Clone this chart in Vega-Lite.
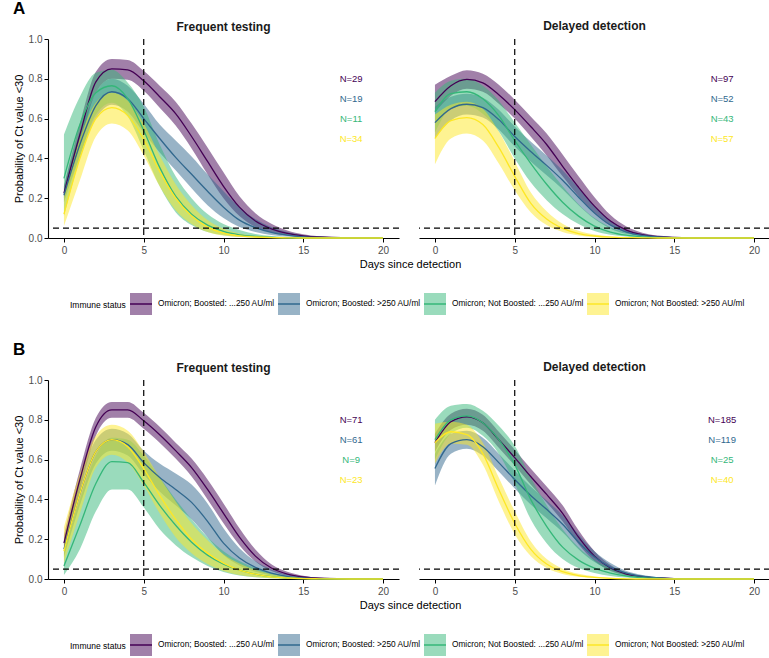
{
"$schema":"https://vega.github.io/schema/vega-lite/v6.json",
"padding":{"left":13,"top":0,"right":0,"bottom":0},
"config":{"font":"Liberation Sans","view":{"stroke":null},
"axis":{"domainColor":"#000","domainWidth":1.1,"tickColor":"#000","tickWidth":1,"tickSize":4,"labelColor":"#4d4d4d","labelFontSize":10,"labelPadding":2,"titleFontSize":11,"titleFontWeight":"normal","titleColor":"#000","grid":false},
"axisX":{"labelPadding":3,"titlePadding":3},
"axisY":{"titlePadding":4},
"title":{"fontSize":12,"fontWeight":"bold","color":"#1a1a1a","offset":5},
"legend":{"labelFontSize":8.3,"titleFontSize":8.5,"titleFontWeight":"normal","labelColor":"#000","titleColor":"#000"}},
"datasets":{
"vline":[{"day":5}],
"hline":[{"p":0.05}],
"labels":[
{"row":"A","test":"F","group":"Omicron; Boosted: ...250 AU/ml","label":"N=29"},
{"row":"A","test":"F","group":"Omicron; Boosted: >250 AU/ml","label":"N=19"},
{"row":"A","test":"F","group":"Omicron; Not Boosted: ...250 AU/ml","label":"N=11"},
{"row":"A","test":"F","group":"Omicron; Not Boosted: >250 AU/ml","label":"N=34"},
{"row":"A","test":"D","group":"Omicron; Boosted: ...250 AU/ml","label":"N=97"},
{"row":"A","test":"D","group":"Omicron; Boosted: >250 AU/ml","label":"N=52"},
{"row":"A","test":"D","group":"Omicron; Not Boosted: ...250 AU/ml","label":"N=43"},
{"row":"A","test":"D","group":"Omicron; Not Boosted: >250 AU/ml","label":"N=57"},
{"row":"B","test":"F","group":"Omicron; Boosted: ...250 AU/ml","label":"N=71"},
{"row":"B","test":"F","group":"Omicron; Boosted: >250 AU/ml","label":"N=61"},
{"row":"B","test":"F","group":"Omicron; Not Boosted: ...250 AU/ml","label":"N=9"},
{"row":"B","test":"F","group":"Omicron; Not Boosted: >250 AU/ml","label":"N=23"},
{"row":"B","test":"D","group":"Omicron; Boosted: ...250 AU/ml","label":"N=185"},
{"row":"B","test":"D","group":"Omicron; Boosted: >250 AU/ml","label":"N=119"},
{"row":"B","test":"D","group":"Omicron; Not Boosted: ...250 AU/ml","label":"N=25"},
{"row":"B","test":"D","group":"Omicron; Not Boosted: >250 AU/ml","label":"N=40"}
],
"curves":[
{"row":"A","test":"F","group":"Omicron; Boosted: ...250 AU/ml","day":0,"p":0.225,"lo":0.2,"hi":0.26},
{"row":"A","test":"F","group":"Omicron; Boosted: ...250 AU/ml","day":1,"p":0.52,"lo":0.47,"hi":0.575},
{"row":"A","test":"F","group":"Omicron; Boosted: ...250 AU/ml","day":2,"p":0.785,"lo":0.73,"hi":0.835},
{"row":"A","test":"F","group":"Omicron; Boosted: ...250 AU/ml","day":3,"p":0.85,"lo":0.8,"hi":0.9},
{"row":"A","test":"F","group":"Omicron; Boosted: ...250 AU/ml","day":4,"p":0.845,"lo":0.795,"hi":0.895},
{"row":"A","test":"F","group":"Omicron; Boosted: ...250 AU/ml","day":5,"p":0.79,"lo":0.74,"hi":0.84},
{"row":"A","test":"F","group":"Omicron; Boosted: ...250 AU/ml","day":6,"p":0.71,"lo":0.655,"hi":0.765},
{"row":"A","test":"F","group":"Omicron; Boosted: ...250 AU/ml","day":7,"p":0.625,"lo":0.565,"hi":0.685},
{"row":"A","test":"F","group":"Omicron; Boosted: ...250 AU/ml","day":8,"p":0.51,"lo":0.45,"hi":0.575},
{"row":"A","test":"F","group":"Omicron; Boosted: ...250 AU/ml","day":9,"p":0.385,"lo":0.32,"hi":0.455},
{"row":"A","test":"F","group":"Omicron; Boosted: ...250 AU/ml","day":10,"p":0.26,"lo":0.2,"hi":0.33},
{"row":"A","test":"F","group":"Omicron; Boosted: ...250 AU/ml","day":11,"p":0.155,"lo":0.11,"hi":0.21},
{"row":"A","test":"F","group":"Omicron; Boosted: ...250 AU/ml","day":12,"p":0.085,"lo":0.055,"hi":0.125},
{"row":"A","test":"F","group":"Omicron; Boosted: ...250 AU/ml","day":13,"p":0.046,"lo":0.028,"hi":0.072},
{"row":"A","test":"F","group":"Omicron; Boosted: ...250 AU/ml","day":14,"p":0.023,"lo":0.013,"hi":0.038},
{"row":"A","test":"F","group":"Omicron; Boosted: ...250 AU/ml","day":15,"p":0.011,"lo":0.006,"hi":0.019},
{"row":"A","test":"F","group":"Omicron; Boosted: ...250 AU/ml","day":16,"p":0.005,"lo":0.002,"hi":0.009},
{"row":"A","test":"F","group":"Omicron; Boosted: ...250 AU/ml","day":18,"p":0.001,"lo":0,"hi":0.002},
{"row":"A","test":"F","group":"Omicron; Boosted: ...250 AU/ml","day":20,"p":0,"lo":0,"hi":0.001},
{"row":"A","test":"F","group":"Omicron; Boosted: >250 AU/ml","day":0,"p":0.215,"lo":0.18,"hi":0.26},
{"row":"A","test":"F","group":"Omicron; Boosted: >250 AU/ml","day":1,"p":0.47,"lo":0.41,"hi":0.53},
{"row":"A","test":"F","group":"Omicron; Boosted: >250 AU/ml","day":2,"p":0.665,"lo":0.6,"hi":0.73},
{"row":"A","test":"F","group":"Omicron; Boosted: >250 AU/ml","day":3,"p":0.735,"lo":0.67,"hi":0.8},
{"row":"A","test":"F","group":"Omicron; Boosted: >250 AU/ml","day":4,"p":0.7,"lo":0.635,"hi":0.765},
{"row":"A","test":"F","group":"Omicron; Boosted: >250 AU/ml","day":5,"p":0.6,"lo":0.53,"hi":0.675},
{"row":"A","test":"F","group":"Omicron; Boosted: >250 AU/ml","day":6,"p":0.5,"lo":0.43,"hi":0.57},
{"row":"A","test":"F","group":"Omicron; Boosted: >250 AU/ml","day":7,"p":0.405,"lo":0.34,"hi":0.49},
{"row":"A","test":"F","group":"Omicron; Boosted: >250 AU/ml","day":8,"p":0.32,"lo":0.25,"hi":0.41},
{"row":"A","test":"F","group":"Omicron; Boosted: >250 AU/ml","day":9,"p":0.235,"lo":0.165,"hi":0.32},
{"row":"A","test":"F","group":"Omicron; Boosted: >250 AU/ml","day":10,"p":0.155,"lo":0.1,"hi":0.235},
{"row":"A","test":"F","group":"Omicron; Boosted: >250 AU/ml","day":11,"p":0.09,"lo":0.055,"hi":0.155},
{"row":"A","test":"F","group":"Omicron; Boosted: >250 AU/ml","day":12,"p":0.052,"lo":0.03,"hi":0.095},
{"row":"A","test":"F","group":"Omicron; Boosted: >250 AU/ml","day":13,"p":0.028,"lo":0.015,"hi":0.055},
{"row":"A","test":"F","group":"Omicron; Boosted: >250 AU/ml","day":14,"p":0.014,"lo":0.007,"hi":0.03},
{"row":"A","test":"F","group":"Omicron; Boosted: >250 AU/ml","day":15,"p":0.006,"lo":0.003,"hi":0.014},
{"row":"A","test":"F","group":"Omicron; Boosted: >250 AU/ml","day":16,"p":0.003,"lo":0.001,"hi":0.006},
{"row":"A","test":"F","group":"Omicron; Boosted: >250 AU/ml","day":18,"p":0.001,"lo":0,"hi":0.002},
{"row":"A","test":"F","group":"Omicron; Boosted: >250 AU/ml","day":20,"p":0,"lo":0,"hi":0},
{"row":"A","test":"F","group":"Omicron; Not Boosted: ...250 AU/ml","day":0,"p":0.3,"lo":0.11,"hi":0.52},
{"row":"A","test":"F","group":"Omicron; Not Boosted: ...250 AU/ml","day":1,"p":0.57,"lo":0.4,"hi":0.71},
{"row":"A","test":"F","group":"Omicron; Not Boosted: ...250 AU/ml","day":2,"p":0.73,"lo":0.62,"hi":0.83},
{"row":"A","test":"F","group":"Omicron; Not Boosted: ...250 AU/ml","day":3,"p":0.765,"lo":0.68,"hi":0.845},
{"row":"A","test":"F","group":"Omicron; Not Boosted: ...250 AU/ml","day":4,"p":0.7,"lo":0.61,"hi":0.78},
{"row":"A","test":"F","group":"Omicron; Not Boosted: ...250 AU/ml","day":5,"p":0.54,"lo":0.44,"hi":0.66},
{"row":"A","test":"F","group":"Omicron; Not Boosted: ...250 AU/ml","day":6,"p":0.355,"lo":0.26,"hi":0.47},
{"row":"A","test":"F","group":"Omicron; Not Boosted: ...250 AU/ml","day":7,"p":0.21,"lo":0.13,"hi":0.31},
{"row":"A","test":"F","group":"Omicron; Not Boosted: ...250 AU/ml","day":8,"p":0.12,"lo":0.065,"hi":0.2},
{"row":"A","test":"F","group":"Omicron; Not Boosted: ...250 AU/ml","day":9,"p":0.065,"lo":0.03,"hi":0.12},
{"row":"A","test":"F","group":"Omicron; Not Boosted: ...250 AU/ml","day":10,"p":0.033,"lo":0.014,"hi":0.07},
{"row":"A","test":"F","group":"Omicron; Not Boosted: ...250 AU/ml","day":11,"p":0.016,"lo":0.006,"hi":0.04},
{"row":"A","test":"F","group":"Omicron; Not Boosted: ...250 AU/ml","day":12,"p":0.008,"lo":0.002,"hi":0.02},
{"row":"A","test":"F","group":"Omicron; Not Boosted: ...250 AU/ml","day":13,"p":0.003,"lo":0.001,"hi":0.01},
{"row":"A","test":"F","group":"Omicron; Not Boosted: ...250 AU/ml","day":14,"p":0.001,"lo":0,"hi":0.005},
{"row":"A","test":"F","group":"Omicron; Not Boosted: ...250 AU/ml","day":15,"p":0,"lo":0,"hi":0.002},
{"row":"A","test":"F","group":"Omicron; Not Boosted: ...250 AU/ml","day":16,"p":0,"lo":0,"hi":0.001},
{"row":"A","test":"F","group":"Omicron; Not Boosted: ...250 AU/ml","day":18,"p":0,"lo":0,"hi":0},
{"row":"A","test":"F","group":"Omicron; Not Boosted: ...250 AU/ml","day":20,"p":0,"lo":0,"hi":0},
{"row":"A","test":"F","group":"Omicron; Not Boosted: >250 AU/ml","day":0,"p":0.12,"lo":0.06,"hi":0.21},
{"row":"A","test":"F","group":"Omicron; Not Boosted: >250 AU/ml","day":1,"p":0.4,"lo":0.29,"hi":0.5},
{"row":"A","test":"F","group":"Omicron; Not Boosted: >250 AU/ml","day":2,"p":0.6,"lo":0.51,"hi":0.68},
{"row":"A","test":"F","group":"Omicron; Not Boosted: >250 AU/ml","day":3,"p":0.655,"lo":0.575,"hi":0.73},
{"row":"A","test":"F","group":"Omicron; Not Boosted: >250 AU/ml","day":4,"p":0.615,"lo":0.54,"hi":0.69},
{"row":"A","test":"F","group":"Omicron; Not Boosted: >250 AU/ml","day":5,"p":0.495,"lo":0.415,"hi":0.575},
{"row":"A","test":"F","group":"Omicron; Not Boosted: >250 AU/ml","day":6,"p":0.335,"lo":0.26,"hi":0.415},
{"row":"A","test":"F","group":"Omicron; Not Boosted: >250 AU/ml","day":7,"p":0.2,"lo":0.14,"hi":0.27},
{"row":"A","test":"F","group":"Omicron; Not Boosted: >250 AU/ml","day":8,"p":0.11,"lo":0.07,"hi":0.165},
{"row":"A","test":"F","group":"Omicron; Not Boosted: >250 AU/ml","day":9,"p":0.055,"lo":0.03,"hi":0.09},
{"row":"A","test":"F","group":"Omicron; Not Boosted: >250 AU/ml","day":10,"p":0.025,"lo":0.012,"hi":0.046},
{"row":"A","test":"F","group":"Omicron; Not Boosted: >250 AU/ml","day":11,"p":0.011,"lo":0.005,"hi":0.022},
{"row":"A","test":"F","group":"Omicron; Not Boosted: >250 AU/ml","day":12,"p":0.005,"lo":0.002,"hi":0.01},
{"row":"A","test":"F","group":"Omicron; Not Boosted: >250 AU/ml","day":13,"p":0.002,"lo":0.001,"hi":0.005},
{"row":"A","test":"F","group":"Omicron; Not Boosted: >250 AU/ml","day":14,"p":0.001,"lo":0,"hi":0.002},
{"row":"A","test":"F","group":"Omicron; Not Boosted: >250 AU/ml","day":15,"p":0,"lo":0,"hi":0.001},
{"row":"A","test":"F","group":"Omicron; Not Boosted: >250 AU/ml","day":16,"p":0,"lo":0,"hi":0},
{"row":"A","test":"F","group":"Omicron; Not Boosted: >250 AU/ml","day":18,"p":0,"lo":0,"hi":0},
{"row":"A","test":"F","group":"Omicron; Not Boosted: >250 AU/ml","day":20,"p":0,"lo":0,"hi":0},
{"row":"A","test":"D","group":"Omicron; Boosted: ...250 AU/ml","day":0,"p":0.685,"lo":0.63,"hi":0.77},
{"row":"A","test":"D","group":"Omicron; Boosted: ...250 AU/ml","day":1,"p":0.765,"lo":0.715,"hi":0.815},
{"row":"A","test":"D","group":"Omicron; Boosted: ...250 AU/ml","day":2,"p":0.797,"lo":0.75,"hi":0.843},
{"row":"A","test":"D","group":"Omicron; Boosted: ...250 AU/ml","day":3,"p":0.78,"lo":0.735,"hi":0.825},
{"row":"A","test":"D","group":"Omicron; Boosted: ...250 AU/ml","day":4,"p":0.72,"lo":0.675,"hi":0.77},
{"row":"A","test":"D","group":"Omicron; Boosted: ...250 AU/ml","day":5,"p":0.645,"lo":0.6,"hi":0.695},
{"row":"A","test":"D","group":"Omicron; Boosted: ...250 AU/ml","day":6,"p":0.56,"lo":0.51,"hi":0.61},
{"row":"A","test":"D","group":"Omicron; Boosted: ...250 AU/ml","day":7,"p":0.47,"lo":0.415,"hi":0.525},
{"row":"A","test":"D","group":"Omicron; Boosted: ...250 AU/ml","day":8,"p":0.36,"lo":0.31,"hi":0.42},
{"row":"A","test":"D","group":"Omicron; Boosted: ...250 AU/ml","day":9,"p":0.255,"lo":0.21,"hi":0.31},
{"row":"A","test":"D","group":"Omicron; Boosted: ...250 AU/ml","day":10,"p":0.16,"lo":0.125,"hi":0.205},
{"row":"A","test":"D","group":"Omicron; Boosted: ...250 AU/ml","day":11,"p":0.085,"lo":0.062,"hi":0.115},
{"row":"A","test":"D","group":"Omicron; Boosted: ...250 AU/ml","day":12,"p":0.04,"lo":0.028,"hi":0.058},
{"row":"A","test":"D","group":"Omicron; Boosted: ...250 AU/ml","day":13,"p":0.017,"lo":0.011,"hi":0.027},
{"row":"A","test":"D","group":"Omicron; Boosted: ...250 AU/ml","day":14,"p":0.007,"lo":0.004,"hi":0.012},
{"row":"A","test":"D","group":"Omicron; Boosted: ...250 AU/ml","day":15,"p":0.003,"lo":0.001,"hi":0.005},
{"row":"A","test":"D","group":"Omicron; Boosted: ...250 AU/ml","day":16,"p":0.001,"lo":0,"hi":0.002},
{"row":"A","test":"D","group":"Omicron; Boosted: ...250 AU/ml","day":18,"p":0,"lo":0,"hi":0.001},
{"row":"A","test":"D","group":"Omicron; Boosted: ...250 AU/ml","day":20,"p":0,"lo":0,"hi":0},
{"row":"A","test":"D","group":"Omicron; Boosted: >250 AU/ml","day":0,"p":0.58,"lo":0.5,"hi":0.66},
{"row":"A","test":"D","group":"Omicron; Boosted: >250 AU/ml","day":1,"p":0.65,"lo":0.59,"hi":0.71},
{"row":"A","test":"D","group":"Omicron; Boosted: >250 AU/ml","day":2,"p":0.672,"lo":0.62,"hi":0.725},
{"row":"A","test":"D","group":"Omicron; Boosted: >250 AU/ml","day":3,"p":0.655,"lo":0.605,"hi":0.705},
{"row":"A","test":"D","group":"Omicron; Boosted: >250 AU/ml","day":4,"p":0.595,"lo":0.545,"hi":0.645},
{"row":"A","test":"D","group":"Omicron; Boosted: >250 AU/ml","day":5,"p":0.51,"lo":0.46,"hi":0.56},
{"row":"A","test":"D","group":"Omicron; Boosted: >250 AU/ml","day":6,"p":0.435,"lo":0.385,"hi":0.485},
{"row":"A","test":"D","group":"Omicron; Boosted: >250 AU/ml","day":7,"p":0.365,"lo":0.315,"hi":0.415},
{"row":"A","test":"D","group":"Omicron; Boosted: >250 AU/ml","day":8,"p":0.29,"lo":0.245,"hi":0.34},
{"row":"A","test":"D","group":"Omicron; Boosted: >250 AU/ml","day":9,"p":0.205,"lo":0.165,"hi":0.25},
{"row":"A","test":"D","group":"Omicron; Boosted: >250 AU/ml","day":10,"p":0.125,"lo":0.095,"hi":0.16},
{"row":"A","test":"D","group":"Omicron; Boosted: >250 AU/ml","day":11,"p":0.065,"lo":0.047,"hi":0.088},
{"row":"A","test":"D","group":"Omicron; Boosted: >250 AU/ml","day":12,"p":0.03,"lo":0.021,"hi":0.043},
{"row":"A","test":"D","group":"Omicron; Boosted: >250 AU/ml","day":13,"p":0.013,"lo":0.009,"hi":0.02},
{"row":"A","test":"D","group":"Omicron; Boosted: >250 AU/ml","day":14,"p":0.005,"lo":0.003,"hi":0.009},
{"row":"A","test":"D","group":"Omicron; Boosted: >250 AU/ml","day":15,"p":0.002,"lo":0.001,"hi":0.004},
{"row":"A","test":"D","group":"Omicron; Boosted: >250 AU/ml","day":16,"p":0.001,"lo":0,"hi":0.002},
{"row":"A","test":"D","group":"Omicron; Boosted: >250 AU/ml","day":18,"p":0,"lo":0,"hi":0},
{"row":"A","test":"D","group":"Omicron; Boosted: >250 AU/ml","day":20,"p":0,"lo":0,"hi":0},
{"row":"A","test":"D","group":"Omicron; Not Boosted: ...250 AU/ml","day":0,"p":0.635,"lo":0.53,"hi":0.73},
{"row":"A","test":"D","group":"Omicron; Not Boosted: ...250 AU/ml","day":1,"p":0.725,"lo":0.65,"hi":0.79},
{"row":"A","test":"D","group":"Omicron; Not Boosted: ...250 AU/ml","day":2,"p":0.735,"lo":0.665,"hi":0.8},
{"row":"A","test":"D","group":"Omicron; Not Boosted: ...250 AU/ml","day":3,"p":0.7,"lo":0.625,"hi":0.765},
{"row":"A","test":"D","group":"Omicron; Not Boosted: ...250 AU/ml","day":4,"p":0.615,"lo":0.535,"hi":0.69},
{"row":"A","test":"D","group":"Omicron; Not Boosted: ...250 AU/ml","day":5,"p":0.49,"lo":0.4,"hi":0.58},
{"row":"A","test":"D","group":"Omicron; Not Boosted: ...250 AU/ml","day":6,"p":0.375,"lo":0.28,"hi":0.47},
{"row":"A","test":"D","group":"Omicron; Not Boosted: ...250 AU/ml","day":7,"p":0.27,"lo":0.19,"hi":0.36},
{"row":"A","test":"D","group":"Omicron; Not Boosted: ...250 AU/ml","day":8,"p":0.18,"lo":0.12,"hi":0.26},
{"row":"A","test":"D","group":"Omicron; Not Boosted: ...250 AU/ml","day":9,"p":0.11,"lo":0.07,"hi":0.17},
{"row":"A","test":"D","group":"Omicron; Not Boosted: ...250 AU/ml","day":10,"p":0.06,"lo":0.035,"hi":0.1},
{"row":"A","test":"D","group":"Omicron; Not Boosted: ...250 AU/ml","day":11,"p":0.03,"lo":0.016,"hi":0.054},
{"row":"A","test":"D","group":"Omicron; Not Boosted: ...250 AU/ml","day":12,"p":0.014,"lo":0.007,"hi":0.027},
{"row":"A","test":"D","group":"Omicron; Not Boosted: ...250 AU/ml","day":13,"p":0.006,"lo":0.003,"hi":0.013},
{"row":"A","test":"D","group":"Omicron; Not Boosted: ...250 AU/ml","day":14,"p":0.002,"lo":0.001,"hi":0.006},
{"row":"A","test":"D","group":"Omicron; Not Boosted: ...250 AU/ml","day":15,"p":0.001,"lo":0,"hi":0.003},
{"row":"A","test":"D","group":"Omicron; Not Boosted: ...250 AU/ml","day":16,"p":0,"lo":0,"hi":0.001},
{"row":"A","test":"D","group":"Omicron; Not Boosted: ...250 AU/ml","day":18,"p":0,"lo":0,"hi":0},
{"row":"A","test":"D","group":"Omicron; Not Boosted: ...250 AU/ml","day":20,"p":0,"lo":0,"hi":0},
{"row":"A","test":"D","group":"Omicron; Not Boosted: >250 AU/ml","day":0,"p":0.5,"lo":0.37,"hi":0.62},
{"row":"A","test":"D","group":"Omicron; Not Boosted: >250 AU/ml","day":1,"p":0.59,"lo":0.5,"hi":0.67},
{"row":"A","test":"D","group":"Omicron; Not Boosted: >250 AU/ml","day":2,"p":0.605,"lo":0.525,"hi":0.685},
{"row":"A","test":"D","group":"Omicron; Not Boosted: >250 AU/ml","day":3,"p":0.57,"lo":0.49,"hi":0.65},
{"row":"A","test":"D","group":"Omicron; Not Boosted: >250 AU/ml","day":4,"p":0.455,"lo":0.375,"hi":0.535},
{"row":"A","test":"D","group":"Omicron; Not Boosted: >250 AU/ml","day":5,"p":0.31,"lo":0.24,"hi":0.385},
{"row":"A","test":"D","group":"Omicron; Not Boosted: >250 AU/ml","day":6,"p":0.175,"lo":0.13,"hi":0.23},
{"row":"A","test":"D","group":"Omicron; Not Boosted: >250 AU/ml","day":7,"p":0.095,"lo":0.065,"hi":0.135},
{"row":"A","test":"D","group":"Omicron; Not Boosted: >250 AU/ml","day":8,"p":0.048,"lo":0.03,"hi":0.072},
{"row":"A","test":"D","group":"Omicron; Not Boosted: >250 AU/ml","day":9,"p":0.022,"lo":0.013,"hi":0.036},
{"row":"A","test":"D","group":"Omicron; Not Boosted: >250 AU/ml","day":10,"p":0.01,"lo":0.005,"hi":0.017},
{"row":"A","test":"D","group":"Omicron; Not Boosted: >250 AU/ml","day":11,"p":0.004,"lo":0.002,"hi":0.008},
{"row":"A","test":"D","group":"Omicron; Not Boosted: >250 AU/ml","day":12,"p":0.002,"lo":0.001,"hi":0.004},
{"row":"A","test":"D","group":"Omicron; Not Boosted: >250 AU/ml","day":13,"p":0.001,"lo":0,"hi":0.002},
{"row":"A","test":"D","group":"Omicron; Not Boosted: >250 AU/ml","day":14,"p":0,"lo":0,"hi":0.001},
{"row":"A","test":"D","group":"Omicron; Not Boosted: >250 AU/ml","day":15,"p":0,"lo":0,"hi":0},
{"row":"A","test":"D","group":"Omicron; Not Boosted: >250 AU/ml","day":16,"p":0,"lo":0,"hi":0},
{"row":"A","test":"D","group":"Omicron; Not Boosted: >250 AU/ml","day":18,"p":0,"lo":0,"hi":0},
{"row":"A","test":"D","group":"Omicron; Not Boosted: >250 AU/ml","day":20,"p":0,"lo":0,"hi":0},
{"row":"B","test":"F","group":"Omicron; Boosted: ...250 AU/ml","day":0,"p":0.18,"lo":0.15,"hi":0.22},
{"row":"B","test":"F","group":"Omicron; Boosted: ...250 AU/ml","day":1,"p":0.5,"lo":0.45,"hi":0.55},
{"row":"B","test":"F","group":"Omicron; Boosted: ...250 AU/ml","day":2,"p":0.765,"lo":0.72,"hi":0.81},
{"row":"B","test":"F","group":"Omicron; Boosted: ...250 AU/ml","day":3,"p":0.85,"lo":0.81,"hi":0.89},
{"row":"B","test":"F","group":"Omicron; Boosted: ...250 AU/ml","day":4,"p":0.85,"lo":0.81,"hi":0.89},
{"row":"B","test":"F","group":"Omicron; Boosted: ...250 AU/ml","day":5,"p":0.795,"lo":0.755,"hi":0.835},
{"row":"B","test":"F","group":"Omicron; Boosted: ...250 AU/ml","day":6,"p":0.725,"lo":0.685,"hi":0.765},
{"row":"B","test":"F","group":"Omicron; Boosted: ...250 AU/ml","day":7,"p":0.645,"lo":0.605,"hi":0.685},
{"row":"B","test":"F","group":"Omicron; Boosted: ...250 AU/ml","day":8,"p":0.56,"lo":0.515,"hi":0.605},
{"row":"B","test":"F","group":"Omicron; Boosted: ...250 AU/ml","day":9,"p":0.45,"lo":0.4,"hi":0.5},
{"row":"B","test":"F","group":"Omicron; Boosted: ...250 AU/ml","day":10,"p":0.33,"lo":0.28,"hi":0.38},
{"row":"B","test":"F","group":"Omicron; Boosted: ...250 AU/ml","day":11,"p":0.21,"lo":0.17,"hi":0.255},
{"row":"B","test":"F","group":"Omicron; Boosted: ...250 AU/ml","day":12,"p":0.115,"lo":0.088,"hi":0.148},
{"row":"B","test":"F","group":"Omicron; Boosted: ...250 AU/ml","day":13,"p":0.055,"lo":0.04,"hi":0.074},
{"row":"B","test":"F","group":"Omicron; Boosted: ...250 AU/ml","day":14,"p":0.025,"lo":0.017,"hi":0.036},
{"row":"B","test":"F","group":"Omicron; Boosted: ...250 AU/ml","day":15,"p":0.01,"lo":0.006,"hi":0.016},
{"row":"B","test":"F","group":"Omicron; Boosted: ...250 AU/ml","day":16,"p":0.004,"lo":0.002,"hi":0.007},
{"row":"B","test":"F","group":"Omicron; Boosted: ...250 AU/ml","day":18,"p":0.001,"lo":0,"hi":0.002},
{"row":"B","test":"F","group":"Omicron; Boosted: ...250 AU/ml","day":20,"p":0,"lo":0,"hi":0},
{"row":"B","test":"F","group":"Omicron; Boosted: >250 AU/ml","day":0,"p":0.15,"lo":0.11,"hi":0.2},
{"row":"B","test":"F","group":"Omicron; Boosted: >250 AU/ml","day":1,"p":0.43,"lo":0.37,"hi":0.49},
{"row":"B","test":"F","group":"Omicron; Boosted: >250 AU/ml","day":2,"p":0.64,"lo":0.58,"hi":0.7},
{"row":"B","test":"F","group":"Omicron; Boosted: >250 AU/ml","day":3,"p":0.7,"lo":0.645,"hi":0.755},
{"row":"B","test":"F","group":"Omicron; Boosted: >250 AU/ml","day":4,"p":0.675,"lo":0.62,"hi":0.73},
{"row":"B","test":"F","group":"Omicron; Boosted: >250 AU/ml","day":5,"p":0.585,"lo":0.525,"hi":0.645},
{"row":"B","test":"F","group":"Omicron; Boosted: >250 AU/ml","day":6,"p":0.51,"lo":0.44,"hi":0.58},
{"row":"B","test":"F","group":"Omicron; Boosted: >250 AU/ml","day":7,"p":0.45,"lo":0.37,"hi":0.53},
{"row":"B","test":"F","group":"Omicron; Boosted: >250 AU/ml","day":8,"p":0.385,"lo":0.3,"hi":0.475},
{"row":"B","test":"F","group":"Omicron; Boosted: >250 AU/ml","day":9,"p":0.29,"lo":0.21,"hi":0.38},
{"row":"B","test":"F","group":"Omicron; Boosted: >250 AU/ml","day":10,"p":0.18,"lo":0.12,"hi":0.255},
{"row":"B","test":"F","group":"Omicron; Boosted: >250 AU/ml","day":11,"p":0.105,"lo":0.068,"hi":0.155},
{"row":"B","test":"F","group":"Omicron; Boosted: >250 AU/ml","day":12,"p":0.058,"lo":0.036,"hi":0.09},
{"row":"B","test":"F","group":"Omicron; Boosted: >250 AU/ml","day":13,"p":0.03,"lo":0.018,"hi":0.048},
{"row":"B","test":"F","group":"Omicron; Boosted: >250 AU/ml","day":14,"p":0.013,"lo":0.007,"hi":0.022},
{"row":"B","test":"F","group":"Omicron; Boosted: >250 AU/ml","day":15,"p":0.005,"lo":0.002,"hi":0.009},
{"row":"B","test":"F","group":"Omicron; Boosted: >250 AU/ml","day":16,"p":0.002,"lo":0.001,"hi":0.004},
{"row":"B","test":"F","group":"Omicron; Boosted: >250 AU/ml","day":18,"p":0,"lo":0,"hi":0.001},
{"row":"B","test":"F","group":"Omicron; Boosted: >250 AU/ml","day":20,"p":0,"lo":0,"hi":0},
{"row":"B","test":"F","group":"Omicron; Not Boosted: ...250 AU/ml","day":0,"p":0.065,"lo":0.02,"hi":0.15},
{"row":"B","test":"F","group":"Omicron; Not Boosted: ...250 AU/ml","day":1,"p":0.27,"lo":0.15,"hi":0.4},
{"row":"B","test":"F","group":"Omicron; Not Boosted: ...250 AU/ml","day":2,"p":0.48,"lo":0.34,"hi":0.62},
{"row":"B","test":"F","group":"Omicron; Not Boosted: ...250 AU/ml","day":3,"p":0.59,"lo":0.45,"hi":0.71},
{"row":"B","test":"F","group":"Omicron; Not Boosted: ...250 AU/ml","day":4,"p":0.585,"lo":0.45,"hi":0.7},
{"row":"B","test":"F","group":"Omicron; Not Boosted: ...250 AU/ml","day":5,"p":0.485,"lo":0.36,"hi":0.62},
{"row":"B","test":"F","group":"Omicron; Not Boosted: ...250 AU/ml","day":6,"p":0.37,"lo":0.25,"hi":0.51},
{"row":"B","test":"F","group":"Omicron; Not Boosted: ...250 AU/ml","day":7,"p":0.27,"lo":0.17,"hi":0.4},
{"row":"B","test":"F","group":"Omicron; Not Boosted: ...250 AU/ml","day":8,"p":0.185,"lo":0.11,"hi":0.3},
{"row":"B","test":"F","group":"Omicron; Not Boosted: ...250 AU/ml","day":9,"p":0.12,"lo":0.065,"hi":0.21},
{"row":"B","test":"F","group":"Omicron; Not Boosted: ...250 AU/ml","day":10,"p":0.075,"lo":0.035,"hi":0.14},
{"row":"B","test":"F","group":"Omicron; Not Boosted: ...250 AU/ml","day":11,"p":0.045,"lo":0.018,"hi":0.09},
{"row":"B","test":"F","group":"Omicron; Not Boosted: ...250 AU/ml","day":12,"p":0.025,"lo":0.009,"hi":0.055},
{"row":"B","test":"F","group":"Omicron; Not Boosted: ...250 AU/ml","day":13,"p":0.012,"lo":0.004,"hi":0.03},
{"row":"B","test":"F","group":"Omicron; Not Boosted: ...250 AU/ml","day":14,"p":0.005,"lo":0.002,"hi":0.015},
{"row":"B","test":"F","group":"Omicron; Not Boosted: ...250 AU/ml","day":15,"p":0.002,"lo":0,"hi":0.007},
{"row":"B","test":"F","group":"Omicron; Not Boosted: ...250 AU/ml","day":16,"p":0.001,"lo":0,"hi":0.003},
{"row":"B","test":"F","group":"Omicron; Not Boosted: ...250 AU/ml","day":18,"p":0,"lo":0,"hi":0.001},
{"row":"B","test":"F","group":"Omicron; Not Boosted: ...250 AU/ml","day":20,"p":0,"lo":0,"hi":0},
{"row":"B","test":"F","group":"Omicron; Not Boosted: >250 AU/ml","day":0,"p":0.14,"lo":0.08,"hi":0.26},
{"row":"B","test":"F","group":"Omicron; Not Boosted: >250 AU/ml","day":1,"p":0.43,"lo":0.33,"hi":0.53},
{"row":"B","test":"F","group":"Omicron; Not Boosted: >250 AU/ml","day":2,"p":0.64,"lo":0.56,"hi":0.72},
{"row":"B","test":"F","group":"Omicron; Not Boosted: >250 AU/ml","day":3,"p":0.7,"lo":0.625,"hi":0.775},
{"row":"B","test":"F","group":"Omicron; Not Boosted: >250 AU/ml","day":4,"p":0.665,"lo":0.585,"hi":0.745},
{"row":"B","test":"F","group":"Omicron; Not Boosted: >250 AU/ml","day":5,"p":0.555,"lo":0.47,"hi":0.64},
{"row":"B","test":"F","group":"Omicron; Not Boosted: >250 AU/ml","day":6,"p":0.42,"lo":0.33,"hi":0.51},
{"row":"B","test":"F","group":"Omicron; Not Boosted: >250 AU/ml","day":7,"p":0.3,"lo":0.21,"hi":0.39},
{"row":"B","test":"F","group":"Omicron; Not Boosted: >250 AU/ml","day":8,"p":0.2,"lo":0.13,"hi":0.28},
{"row":"B","test":"F","group":"Omicron; Not Boosted: >250 AU/ml","day":9,"p":0.13,"lo":0.075,"hi":0.195},
{"row":"B","test":"F","group":"Omicron; Not Boosted: >250 AU/ml","day":10,"p":0.08,"lo":0.04,"hi":0.125},
{"row":"B","test":"F","group":"Omicron; Not Boosted: >250 AU/ml","day":11,"p":0.045,"lo":0.02,"hi":0.078},
{"row":"B","test":"F","group":"Omicron; Not Boosted: >250 AU/ml","day":12,"p":0.024,"lo":0.01,"hi":0.045},
{"row":"B","test":"F","group":"Omicron; Not Boosted: >250 AU/ml","day":13,"p":0.011,"lo":0.004,"hi":0.024},
{"row":"B","test":"F","group":"Omicron; Not Boosted: >250 AU/ml","day":14,"p":0.005,"lo":0.002,"hi":0.012},
{"row":"B","test":"F","group":"Omicron; Not Boosted: >250 AU/ml","day":15,"p":0.002,"lo":0,"hi":0.005},
{"row":"B","test":"F","group":"Omicron; Not Boosted: >250 AU/ml","day":16,"p":0.001,"lo":0,"hi":0.002},
{"row":"B","test":"F","group":"Omicron; Not Boosted: >250 AU/ml","day":18,"p":0,"lo":0,"hi":0},
{"row":"B","test":"F","group":"Omicron; Not Boosted: >250 AU/ml","day":20,"p":0,"lo":0,"hi":0},
{"row":"B","test":"D","group":"Omicron; Boosted: ...250 AU/ml","day":0,"p":0.685,"lo":0.64,"hi":0.73},
{"row":"B","test":"D","group":"Omicron; Boosted: ...250 AU/ml","day":1,"p":0.79,"lo":0.75,"hi":0.83},
{"row":"B","test":"D","group":"Omicron; Boosted: ...250 AU/ml","day":2,"p":0.815,"lo":0.775,"hi":0.855},
{"row":"B","test":"D","group":"Omicron; Boosted: ...250 AU/ml","day":3,"p":0.785,"lo":0.745,"hi":0.825},
{"row":"B","test":"D","group":"Omicron; Boosted: ...250 AU/ml","day":4,"p":0.7,"lo":0.66,"hi":0.74},
{"row":"B","test":"D","group":"Omicron; Boosted: ...250 AU/ml","day":5,"p":0.61,"lo":0.57,"hi":0.65},
{"row":"B","test":"D","group":"Omicron; Boosted: ...250 AU/ml","day":6,"p":0.515,"lo":0.475,"hi":0.555},
{"row":"B","test":"D","group":"Omicron; Boosted: ...250 AU/ml","day":7,"p":0.425,"lo":0.385,"hi":0.465},
{"row":"B","test":"D","group":"Omicron; Boosted: ...250 AU/ml","day":8,"p":0.33,"lo":0.29,"hi":0.37},
{"row":"B","test":"D","group":"Omicron; Boosted: ...250 AU/ml","day":9,"p":0.21,"lo":0.175,"hi":0.245},
{"row":"B","test":"D","group":"Omicron; Boosted: ...250 AU/ml","day":10,"p":0.115,"lo":0.09,"hi":0.14},
{"row":"B","test":"D","group":"Omicron; Boosted: ...250 AU/ml","day":11,"p":0.055,"lo":0.04,"hi":0.07},
{"row":"B","test":"D","group":"Omicron; Boosted: ...250 AU/ml","day":12,"p":0.025,"lo":0.018,"hi":0.033},
{"row":"B","test":"D","group":"Omicron; Boosted: ...250 AU/ml","day":13,"p":0.011,"lo":0.007,"hi":0.015},
{"row":"B","test":"D","group":"Omicron; Boosted: ...250 AU/ml","day":14,"p":0.005,"lo":0.003,"hi":0.007},
{"row":"B","test":"D","group":"Omicron; Boosted: ...250 AU/ml","day":15,"p":0.002,"lo":0.001,"hi":0.003},
{"row":"B","test":"D","group":"Omicron; Boosted: ...250 AU/ml","day":16,"p":0.001,"lo":0,"hi":0.001},
{"row":"B","test":"D","group":"Omicron; Boosted: ...250 AU/ml","day":18,"p":0,"lo":0,"hi":0},
{"row":"B","test":"D","group":"Omicron; Boosted: ...250 AU/ml","day":20,"p":0,"lo":0,"hi":0},
{"row":"B","test":"D","group":"Omicron; Boosted: >250 AU/ml","day":0,"p":0.555,"lo":0.47,"hi":0.63},
{"row":"B","test":"D","group":"Omicron; Boosted: >250 AU/ml","day":1,"p":0.68,"lo":0.63,"hi":0.73},
{"row":"B","test":"D","group":"Omicron; Boosted: >250 AU/ml","day":2,"p":0.7,"lo":0.655,"hi":0.745},
{"row":"B","test":"D","group":"Omicron; Boosted: >250 AU/ml","day":3,"p":0.665,"lo":0.62,"hi":0.71},
{"row":"B","test":"D","group":"Omicron; Boosted: >250 AU/ml","day":4,"p":0.585,"lo":0.54,"hi":0.63},
{"row":"B","test":"D","group":"Omicron; Boosted: >250 AU/ml","day":5,"p":0.5,"lo":0.455,"hi":0.545},
{"row":"B","test":"D","group":"Omicron; Boosted: >250 AU/ml","day":6,"p":0.42,"lo":0.375,"hi":0.465},
{"row":"B","test":"D","group":"Omicron; Boosted: >250 AU/ml","day":7,"p":0.35,"lo":0.305,"hi":0.395},
{"row":"B","test":"D","group":"Omicron; Boosted: >250 AU/ml","day":8,"p":0.275,"lo":0.235,"hi":0.32},
{"row":"B","test":"D","group":"Omicron; Boosted: >250 AU/ml","day":9,"p":0.185,"lo":0.15,"hi":0.225},
{"row":"B","test":"D","group":"Omicron; Boosted: >250 AU/ml","day":10,"p":0.11,"lo":0.085,"hi":0.14},
{"row":"B","test":"D","group":"Omicron; Boosted: >250 AU/ml","day":11,"p":0.06,"lo":0.045,"hi":0.08},
{"row":"B","test":"D","group":"Omicron; Boosted: >250 AU/ml","day":12,"p":0.03,"lo":0.022,"hi":0.04},
{"row":"B","test":"D","group":"Omicron; Boosted: >250 AU/ml","day":13,"p":0.014,"lo":0.01,"hi":0.02},
{"row":"B","test":"D","group":"Omicron; Boosted: >250 AU/ml","day":14,"p":0.006,"lo":0.004,"hi":0.009},
{"row":"B","test":"D","group":"Omicron; Boosted: >250 AU/ml","day":15,"p":0.002,"lo":0.001,"hi":0.004},
{"row":"B","test":"D","group":"Omicron; Boosted: >250 AU/ml","day":16,"p":0.001,"lo":0,"hi":0.002},
{"row":"B","test":"D","group":"Omicron; Boosted: >250 AU/ml","day":18,"p":0,"lo":0,"hi":0},
{"row":"B","test":"D","group":"Omicron; Boosted: >250 AU/ml","day":20,"p":0,"lo":0,"hi":0},
{"row":"B","test":"D","group":"Omicron; Not Boosted: ...250 AU/ml","day":0,"p":0.7,"lo":0.6,"hi":0.8},
{"row":"B","test":"D","group":"Omicron; Not Boosted: ...250 AU/ml","day":1,"p":0.8,"lo":0.73,"hi":0.87},
{"row":"B","test":"D","group":"Omicron; Not Boosted: ...250 AU/ml","day":2,"p":0.82,"lo":0.76,"hi":0.88},
{"row":"B","test":"D","group":"Omicron; Not Boosted: ...250 AU/ml","day":3,"p":0.785,"lo":0.72,"hi":0.845},
{"row":"B","test":"D","group":"Omicron; Not Boosted: ...250 AU/ml","day":4,"p":0.7,"lo":0.63,"hi":0.77},
{"row":"B","test":"D","group":"Omicron; Not Boosted: ...250 AU/ml","day":5,"p":0.575,"lo":0.48,"hi":0.67},
{"row":"B","test":"D","group":"Omicron; Not Boosted: ...250 AU/ml","day":6,"p":0.4,"lo":0.3,"hi":0.51},
{"row":"B","test":"D","group":"Omicron; Not Boosted: ...250 AU/ml","day":7,"p":0.265,"lo":0.18,"hi":0.37},
{"row":"B","test":"D","group":"Omicron; Not Boosted: ...250 AU/ml","day":8,"p":0.16,"lo":0.1,"hi":0.25},
{"row":"B","test":"D","group":"Omicron; Not Boosted: ...250 AU/ml","day":9,"p":0.095,"lo":0.055,"hi":0.16},
{"row":"B","test":"D","group":"Omicron; Not Boosted: ...250 AU/ml","day":10,"p":0.055,"lo":0.03,"hi":0.095},
{"row":"B","test":"D","group":"Omicron; Not Boosted: ...250 AU/ml","day":11,"p":0.03,"lo":0.015,"hi":0.055},
{"row":"B","test":"D","group":"Omicron; Not Boosted: ...250 AU/ml","day":12,"p":0.015,"lo":0.007,"hi":0.03},
{"row":"B","test":"D","group":"Omicron; Not Boosted: ...250 AU/ml","day":13,"p":0.007,"lo":0.003,"hi":0.015},
{"row":"B","test":"D","group":"Omicron; Not Boosted: ...250 AU/ml","day":14,"p":0.003,"lo":0.001,"hi":0.007},
{"row":"B","test":"D","group":"Omicron; Not Boosted: ...250 AU/ml","day":15,"p":0.001,"lo":0,"hi":0.003},
{"row":"B","test":"D","group":"Omicron; Not Boosted: ...250 AU/ml","day":16,"p":0,"lo":0,"hi":0.001},
{"row":"B","test":"D","group":"Omicron; Not Boosted: ...250 AU/ml","day":18,"p":0,"lo":0,"hi":0},
{"row":"B","test":"D","group":"Omicron; Not Boosted: ...250 AU/ml","day":20,"p":0,"lo":0,"hi":0},
{"row":"B","test":"D","group":"Omicron; Not Boosted: >250 AU/ml","day":0,"p":0.685,"lo":0.58,"hi":0.78},
{"row":"B","test":"D","group":"Omicron; Not Boosted: >250 AU/ml","day":1,"p":0.74,"lo":0.68,"hi":0.79},
{"row":"B","test":"D","group":"Omicron; Not Boosted: >250 AU/ml","day":2,"p":0.725,"lo":0.675,"hi":0.775},
{"row":"B","test":"D","group":"Omicron; Not Boosted: >250 AU/ml","day":3,"p":0.63,"lo":0.575,"hi":0.685},
{"row":"B","test":"D","group":"Omicron; Not Boosted: >250 AU/ml","day":4,"p":0.45,"lo":0.39,"hi":0.51},
{"row":"B","test":"D","group":"Omicron; Not Boosted: >250 AU/ml","day":5,"p":0.28,"lo":0.225,"hi":0.34},
{"row":"B","test":"D","group":"Omicron; Not Boosted: >250 AU/ml","day":6,"p":0.15,"lo":0.115,"hi":0.19},
{"row":"B","test":"D","group":"Omicron; Not Boosted: >250 AU/ml","day":7,"p":0.075,"lo":0.055,"hi":0.1},
{"row":"B","test":"D","group":"Omicron; Not Boosted: >250 AU/ml","day":8,"p":0.037,"lo":0.025,"hi":0.052},
{"row":"B","test":"D","group":"Omicron; Not Boosted: >250 AU/ml","day":9,"p":0.017,"lo":0.011,"hi":0.026},
{"row":"B","test":"D","group":"Omicron; Not Boosted: >250 AU/ml","day":10,"p":0.008,"lo":0.005,"hi":0.013},
{"row":"B","test":"D","group":"Omicron; Not Boosted: >250 AU/ml","day":11,"p":0.003,"lo":0.002,"hi":0.006},
{"row":"B","test":"D","group":"Omicron; Not Boosted: >250 AU/ml","day":12,"p":0.001,"lo":0,"hi":0.003},
{"row":"B","test":"D","group":"Omicron; Not Boosted: >250 AU/ml","day":13,"p":0,"lo":0,"hi":0.001},
{"row":"B","test":"D","group":"Omicron; Not Boosted: >250 AU/ml","day":14,"p":0,"lo":0,"hi":0},
{"row":"B","test":"D","group":"Omicron; Not Boosted: >250 AU/ml","day":15,"p":0,"lo":0,"hi":0},
{"row":"B","test":"D","group":"Omicron; Not Boosted: >250 AU/ml","day":16,"p":0,"lo":0,"hi":0},
{"row":"B","test":"D","group":"Omicron; Not Boosted: >250 AU/ml","day":18,"p":0,"lo":0,"hi":0},
{"row":"B","test":"D","group":"Omicron; Not Boosted: >250 AU/ml","day":20,"p":0,"lo":0,"hi":0}
]},
"resolve":{"scale":{"fill":"independent","stroke":"independent"}},
"spacing":23,
"vconcat":[
{"title":{"text":"A","anchor":"start","fontSize":17,"fontWeight":"bold","color":"#000","offset":2},
"bounds":"flush","spacing":20,
"hconcat":[
{"width":351,"height":199,"title":{"text":"Frequent testing","offset":0},"resolve":{"scale":{"y":"independent"}},
"layer":[
{"layer":[
{"data":{"name":"curves"},"transform":[{"filter":"datum.row === 'A' && datum.test === 'F'"}],"mark":{"type":"area","interpolate":"monotone","fillOpacity":0.5},
"encoding":{"x":{"field":"day","type":"quantitative","scale":{"domain":[-1,21],"nice":false,"zero":false},"axis":{"values":[0,5,10,15,20],"title":null}},
"y":{"field":"lo","type":"quantitative","scale":{"domain":[0,1],"nice":false},"axis":{"values":[0,0.2,0.4,0.6,0.8,1],"format":".1f","title":"Probability of Ct value <30"}},"y2":{"field":"hi"},
"fill":{"field":"group","type":"nominal","scale":{"domain":["Omicron; Boosted: ...250 AU/ml","Omicron; Boosted: >250 AU/ml","Omicron; Not Boosted: ...250 AU/ml","Omicron; Not Boosted: >250 AU/ml"],"range":["#440154","#31688E","#35B779","#FDE725"]},"legend":{"title":"Immune status","orient":"none","legendX":22,"legendY":253,"direction":"horizontal","titleOrient":"left","symbolType":"M-1,0H1V1H-1V-1H1V0","symbolSize":484,"symbolStrokeWidth":1.5,"symbolDash":[22,300],"columnPadding":0,"labelOffset":5,"titlePadding":3,"encoding":{"symbols":{"fillOpacity":{"value":0.5},"strokeOpacity":{"value":1}}}}}}},
{"data":{"name":"curves"},"transform":[{"filter":"datum.row === 'A' && datum.test === 'F'"}],"mark":{"type":"line","interpolate":"monotone","strokeWidth":1.3},
"encoding":{"x":{"field":"day","type":"quantitative","scale":{"domain":[-1,21],"nice":false,"zero":false},"axis":{"values":[0,5,10,15,20],"title":null}},
"y":{"field":"p","type":"quantitative","scale":{"domain":[0,1],"nice":false},"axis":{"values":[0,0.2,0.4,0.6,0.8,1],"format":".1f","title":"Probability of Ct value <30"}},
"stroke":{"field":"group","type":"nominal","scale":{"domain":["Omicron; Boosted: ...250 AU/ml","Omicron; Boosted: >250 AU/ml","Omicron; Not Boosted: ...250 AU/ml","Omicron; Not Boosted: >250 AU/ml"],"range":["#440154","#31688E","#35B779","#FDE725"]},"legend":{"title":"Immune status","orient":"none","legendX":22,"legendY":253,"direction":"horizontal","titleOrient":"left","symbolType":"M-1,0H1V1H-1V-1H1V0","symbolSize":484,"symbolStrokeWidth":1.5,"symbolDash":[22,300],"columnPadding":0,"labelOffset":5,"titlePadding":3,"encoding":{"symbols":{"fillOpacity":{"value":0.5},"strokeOpacity":{"value":1}}}}}}},
{"data":{"name":"vline"},"mark":{"type":"rule","color":"#000","strokeDash":[6,4],"strokeWidth":1.2},"encoding":{"x":{"field":"day","type":"quantitative","scale":{"domain":[-1,21],"nice":false,"zero":false},"axis":{"values":[0,5,10,15,20],"title":null}}}},
{"data":{"name":"hline"},"mark":{"type":"rule","color":"#000","strokeDash":[6,4],"strokeWidth":1.2},"encoding":{"y":{"field":"p","type":"quantitative","scale":{"domain":[0,1],"nice":false},"axis":{"values":[0,0.2,0.4,0.6,0.8,1],"format":".1f","title":"Probability of Ct value <30"}}}}
]},
{"data":{"name":"labels"},"transform":[{"filter":"datum.row === 'A' && datum.test === 'F'"}],"mark":{"type":"text","fontSize":9.5,"align":"center","baseline":"middle"},
"encoding":{"x":{"datum":18,"type":"quantitative","scale":{"domain":[-1,21],"nice":false,"zero":false},"axis":{"values":[0,5,10,15,20],"title":null}},
"y":{"field":"group","type":"nominal","scale":{"type":"point","domain":["_a","_b","Omicron; Boosted: ...250 AU/ml","Omicron; Boosted: >250 AU/ml","Omicron; Not Boosted: ...250 AU/ml","Omicron; Not Boosted: >250 AU/ml","_c","_d","_e","_f","_g"],"padding":0},"axis":null},
"text":{"field":"label"},
"fill":{"field":"group","type":"nominal","scale":{"domain":["Omicron; Boosted: ...250 AU/ml","Omicron; Boosted: >250 AU/ml","Omicron; Not Boosted: ...250 AU/ml","Omicron; Not Boosted: >250 AU/ml"],"range":["#440154","#31688E","#35B779","#FDE725"]},"legend":{"title":"Immune status","orient":"none","legendX":22,"legendY":253,"direction":"horizontal","titleOrient":"left","symbolType":"M-1,0H1V1H-1V-1H1V0","symbolSize":484,"symbolStrokeWidth":1.5,"symbolDash":[22,300],"columnPadding":0,"labelOffset":5,"titlePadding":3,"encoding":{"symbols":{"fillOpacity":{"value":0.5},"strokeOpacity":{"value":1}}}}}}}
]},
{"width":351,"height":199,"title":{"text":"Delayed detection","offset":5},"resolve":{"scale":{"y":"independent"}},
"layer":[
{"layer":[
{"data":{"name":"curves"},"transform":[{"filter":"datum.row === 'A' && datum.test === 'D'"}],"mark":{"type":"area","interpolate":"monotone","fillOpacity":0.5},
"encoding":{"x":{"field":"day","type":"quantitative","scale":{"domain":[-1,21],"nice":false,"zero":false},"axis":{"values":[0,5,10,15,20],"title":"Days since detection","titleX":-9}},
"y":{"field":"lo","type":"quantitative","scale":{"domain":[0,1],"nice":false},"axis":null},"y2":{"field":"hi"},
"fill":{"field":"group","type":"nominal","scale":{"domain":["Omicron; Boosted: ...250 AU/ml","Omicron; Boosted: >250 AU/ml","Omicron; Not Boosted: ...250 AU/ml","Omicron; Not Boosted: >250 AU/ml"],"range":["#440154","#31688E","#35B779","#FDE725"]},"legend":{"title":"Immune status","orient":"none","legendX":22,"legendY":253,"direction":"horizontal","titleOrient":"left","symbolType":"M-1,0H1V1H-1V-1H1V0","symbolSize":484,"symbolStrokeWidth":1.5,"symbolDash":[22,300],"columnPadding":0,"labelOffset":5,"titlePadding":3,"encoding":{"symbols":{"fillOpacity":{"value":0.5},"strokeOpacity":{"value":1}}}}}}},
{"data":{"name":"curves"},"transform":[{"filter":"datum.row === 'A' && datum.test === 'D'"}],"mark":{"type":"line","interpolate":"monotone","strokeWidth":1.3},
"encoding":{"x":{"field":"day","type":"quantitative","scale":{"domain":[-1,21],"nice":false,"zero":false},"axis":{"values":[0,5,10,15,20],"title":"Days since detection","titleX":-9}},
"y":{"field":"p","type":"quantitative","scale":{"domain":[0,1],"nice":false},"axis":null},
"stroke":{"field":"group","type":"nominal","scale":{"domain":["Omicron; Boosted: ...250 AU/ml","Omicron; Boosted: >250 AU/ml","Omicron; Not Boosted: ...250 AU/ml","Omicron; Not Boosted: >250 AU/ml"],"range":["#440154","#31688E","#35B779","#FDE725"]},"legend":{"title":"Immune status","orient":"none","legendX":22,"legendY":253,"direction":"horizontal","titleOrient":"left","symbolType":"M-1,0H1V1H-1V-1H1V0","symbolSize":484,"symbolStrokeWidth":1.5,"symbolDash":[22,300],"columnPadding":0,"labelOffset":5,"titlePadding":3,"encoding":{"symbols":{"fillOpacity":{"value":0.5},"strokeOpacity":{"value":1}}}}}}},
{"data":{"name":"vline"},"mark":{"type":"rule","color":"#000","strokeDash":[6,4],"strokeWidth":1.2},"encoding":{"x":{"field":"day","type":"quantitative","scale":{"domain":[-1,21],"nice":false,"zero":false},"axis":{"values":[0,5,10,15,20],"title":"Days since detection","titleX":-9}}}},
{"data":{"name":"hline"},"mark":{"type":"rule","color":"#000","strokeDash":[6,4],"strokeWidth":1.2},"encoding":{"y":{"field":"p","type":"quantitative","scale":{"domain":[0,1],"nice":false},"axis":null}}}
]},
{"data":{"name":"labels"},"transform":[{"filter":"datum.row === 'A' && datum.test === 'D'"}],"mark":{"type":"text","fontSize":9.5,"align":"center","baseline":"middle"},
"encoding":{"x":{"datum":18,"type":"quantitative","scale":{"domain":[-1,21],"nice":false,"zero":false},"axis":{"values":[0,5,10,15,20],"title":"Days since detection","titleX":-9}},
"y":{"field":"group","type":"nominal","scale":{"type":"point","domain":["_a","_b","Omicron; Boosted: ...250 AU/ml","Omicron; Boosted: >250 AU/ml","Omicron; Not Boosted: ...250 AU/ml","Omicron; Not Boosted: >250 AU/ml","_c","_d","_e","_f","_g"],"padding":0},"axis":null},
"text":{"field":"label"},
"fill":{"field":"group","type":"nominal","scale":{"domain":["Omicron; Boosted: ...250 AU/ml","Omicron; Boosted: >250 AU/ml","Omicron; Not Boosted: ...250 AU/ml","Omicron; Not Boosted: >250 AU/ml"],"range":["#440154","#31688E","#35B779","#FDE725"]},"legend":{"title":"Immune status","orient":"none","legendX":22,"legendY":253,"direction":"horizontal","titleOrient":"left","symbolType":"M-1,0H1V1H-1V-1H1V0","symbolSize":484,"symbolStrokeWidth":1.5,"symbolDash":[22,300],"columnPadding":0,"labelOffset":5,"titlePadding":3,"encoding":{"symbols":{"fillOpacity":{"value":0.5},"strokeOpacity":{"value":1}}}}}}}
]}
]},
{"title":{"text":"B","anchor":"start","fontSize":17,"fontWeight":"bold","color":"#000","offset":2},
"bounds":"flush","spacing":20,
"hconcat":[
{"width":351,"height":199,"title":{"text":"Frequent testing","offset":0},"resolve":{"scale":{"y":"independent"}},
"layer":[
{"layer":[
{"data":{"name":"curves"},"transform":[{"filter":"datum.row === 'B' && datum.test === 'F'"}],"mark":{"type":"area","interpolate":"monotone","fillOpacity":0.5},
"encoding":{"x":{"field":"day","type":"quantitative","scale":{"domain":[-1,21],"nice":false,"zero":false},"axis":{"values":[0,5,10,15,20],"title":null}},
"y":{"field":"lo","type":"quantitative","scale":{"domain":[0,1],"nice":false},"axis":{"values":[0,0.2,0.4,0.6,0.8,1],"format":".1f","title":"Probability of Ct value <30"}},"y2":{"field":"hi"},
"fill":{"field":"group","type":"nominal","scale":{"domain":["Omicron; Boosted: ...250 AU/ml","Omicron; Boosted: >250 AU/ml","Omicron; Not Boosted: ...250 AU/ml","Omicron; Not Boosted: >250 AU/ml"],"range":["#440154","#31688E","#35B779","#FDE725"]},"legend":{"title":"Immune status","orient":"none","legendX":22,"legendY":253,"direction":"horizontal","titleOrient":"left","symbolType":"M-1,0H1V1H-1V-1H1V0","symbolSize":484,"symbolStrokeWidth":1.5,"symbolDash":[22,300],"columnPadding":0,"labelOffset":5,"titlePadding":3,"encoding":{"symbols":{"fillOpacity":{"value":0.5},"strokeOpacity":{"value":1}}}}}}},
{"data":{"name":"curves"},"transform":[{"filter":"datum.row === 'B' && datum.test === 'F'"}],"mark":{"type":"line","interpolate":"monotone","strokeWidth":1.3},
"encoding":{"x":{"field":"day","type":"quantitative","scale":{"domain":[-1,21],"nice":false,"zero":false},"axis":{"values":[0,5,10,15,20],"title":null}},
"y":{"field":"p","type":"quantitative","scale":{"domain":[0,1],"nice":false},"axis":{"values":[0,0.2,0.4,0.6,0.8,1],"format":".1f","title":"Probability of Ct value <30"}},
"stroke":{"field":"group","type":"nominal","scale":{"domain":["Omicron; Boosted: ...250 AU/ml","Omicron; Boosted: >250 AU/ml","Omicron; Not Boosted: ...250 AU/ml","Omicron; Not Boosted: >250 AU/ml"],"range":["#440154","#31688E","#35B779","#FDE725"]},"legend":{"title":"Immune status","orient":"none","legendX":22,"legendY":253,"direction":"horizontal","titleOrient":"left","symbolType":"M-1,0H1V1H-1V-1H1V0","symbolSize":484,"symbolStrokeWidth":1.5,"symbolDash":[22,300],"columnPadding":0,"labelOffset":5,"titlePadding":3,"encoding":{"symbols":{"fillOpacity":{"value":0.5},"strokeOpacity":{"value":1}}}}}}},
{"data":{"name":"vline"},"mark":{"type":"rule","color":"#000","strokeDash":[6,4],"strokeWidth":1.2},"encoding":{"x":{"field":"day","type":"quantitative","scale":{"domain":[-1,21],"nice":false,"zero":false},"axis":{"values":[0,5,10,15,20],"title":null}}}},
{"data":{"name":"hline"},"mark":{"type":"rule","color":"#000","strokeDash":[6,4],"strokeWidth":1.2},"encoding":{"y":{"field":"p","type":"quantitative","scale":{"domain":[0,1],"nice":false},"axis":{"values":[0,0.2,0.4,0.6,0.8,1],"format":".1f","title":"Probability of Ct value <30"}}}}
]},
{"data":{"name":"labels"},"transform":[{"filter":"datum.row === 'B' && datum.test === 'F'"}],"mark":{"type":"text","fontSize":9.5,"align":"center","baseline":"middle"},
"encoding":{"x":{"datum":18,"type":"quantitative","scale":{"domain":[-1,21],"nice":false,"zero":false},"axis":{"values":[0,5,10,15,20],"title":null}},
"y":{"field":"group","type":"nominal","scale":{"type":"point","domain":["_a","_b","Omicron; Boosted: ...250 AU/ml","Omicron; Boosted: >250 AU/ml","Omicron; Not Boosted: ...250 AU/ml","Omicron; Not Boosted: >250 AU/ml","_c","_d","_e","_f","_g"],"padding":0},"axis":null},
"text":{"field":"label"},
"fill":{"field":"group","type":"nominal","scale":{"domain":["Omicron; Boosted: ...250 AU/ml","Omicron; Boosted: >250 AU/ml","Omicron; Not Boosted: ...250 AU/ml","Omicron; Not Boosted: >250 AU/ml"],"range":["#440154","#31688E","#35B779","#FDE725"]},"legend":{"title":"Immune status","orient":"none","legendX":22,"legendY":253,"direction":"horizontal","titleOrient":"left","symbolType":"M-1,0H1V1H-1V-1H1V0","symbolSize":484,"symbolStrokeWidth":1.5,"symbolDash":[22,300],"columnPadding":0,"labelOffset":5,"titlePadding":3,"encoding":{"symbols":{"fillOpacity":{"value":0.5},"strokeOpacity":{"value":1}}}}}}}
]},
{"width":351,"height":199,"title":{"text":"Delayed detection","offset":5},"resolve":{"scale":{"y":"independent"}},
"layer":[
{"layer":[
{"data":{"name":"curves"},"transform":[{"filter":"datum.row === 'B' && datum.test === 'D'"}],"mark":{"type":"area","interpolate":"monotone","fillOpacity":0.5},
"encoding":{"x":{"field":"day","type":"quantitative","scale":{"domain":[-1,21],"nice":false,"zero":false},"axis":{"values":[0,5,10,15,20],"title":"Days since detection","titleX":-9}},
"y":{"field":"lo","type":"quantitative","scale":{"domain":[0,1],"nice":false},"axis":null},"y2":{"field":"hi"},
"fill":{"field":"group","type":"nominal","scale":{"domain":["Omicron; Boosted: ...250 AU/ml","Omicron; Boosted: >250 AU/ml","Omicron; Not Boosted: ...250 AU/ml","Omicron; Not Boosted: >250 AU/ml"],"range":["#440154","#31688E","#35B779","#FDE725"]},"legend":{"title":"Immune status","orient":"none","legendX":22,"legendY":253,"direction":"horizontal","titleOrient":"left","symbolType":"M-1,0H1V1H-1V-1H1V0","symbolSize":484,"symbolStrokeWidth":1.5,"symbolDash":[22,300],"columnPadding":0,"labelOffset":5,"titlePadding":3,"encoding":{"symbols":{"fillOpacity":{"value":0.5},"strokeOpacity":{"value":1}}}}}}},
{"data":{"name":"curves"},"transform":[{"filter":"datum.row === 'B' && datum.test === 'D'"}],"mark":{"type":"line","interpolate":"monotone","strokeWidth":1.3},
"encoding":{"x":{"field":"day","type":"quantitative","scale":{"domain":[-1,21],"nice":false,"zero":false},"axis":{"values":[0,5,10,15,20],"title":"Days since detection","titleX":-9}},
"y":{"field":"p","type":"quantitative","scale":{"domain":[0,1],"nice":false},"axis":null},
"stroke":{"field":"group","type":"nominal","scale":{"domain":["Omicron; Boosted: ...250 AU/ml","Omicron; Boosted: >250 AU/ml","Omicron; Not Boosted: ...250 AU/ml","Omicron; Not Boosted: >250 AU/ml"],"range":["#440154","#31688E","#35B779","#FDE725"]},"legend":{"title":"Immune status","orient":"none","legendX":22,"legendY":253,"direction":"horizontal","titleOrient":"left","symbolType":"M-1,0H1V1H-1V-1H1V0","symbolSize":484,"symbolStrokeWidth":1.5,"symbolDash":[22,300],"columnPadding":0,"labelOffset":5,"titlePadding":3,"encoding":{"symbols":{"fillOpacity":{"value":0.5},"strokeOpacity":{"value":1}}}}}}},
{"data":{"name":"vline"},"mark":{"type":"rule","color":"#000","strokeDash":[6,4],"strokeWidth":1.2},"encoding":{"x":{"field":"day","type":"quantitative","scale":{"domain":[-1,21],"nice":false,"zero":false},"axis":{"values":[0,5,10,15,20],"title":"Days since detection","titleX":-9}}}},
{"data":{"name":"hline"},"mark":{"type":"rule","color":"#000","strokeDash":[6,4],"strokeWidth":1.2},"encoding":{"y":{"field":"p","type":"quantitative","scale":{"domain":[0,1],"nice":false},"axis":null}}}
]},
{"data":{"name":"labels"},"transform":[{"filter":"datum.row === 'B' && datum.test === 'D'"}],"mark":{"type":"text","fontSize":9.5,"align":"center","baseline":"middle"},
"encoding":{"x":{"datum":18,"type":"quantitative","scale":{"domain":[-1,21],"nice":false,"zero":false},"axis":{"values":[0,5,10,15,20],"title":"Days since detection","titleX":-9}},
"y":{"field":"group","type":"nominal","scale":{"type":"point","domain":["_a","_b","Omicron; Boosted: ...250 AU/ml","Omicron; Boosted: >250 AU/ml","Omicron; Not Boosted: ...250 AU/ml","Omicron; Not Boosted: >250 AU/ml","_c","_d","_e","_f","_g"],"padding":0},"axis":null},
"text":{"field":"label"},
"fill":{"field":"group","type":"nominal","scale":{"domain":["Omicron; Boosted: ...250 AU/ml","Omicron; Boosted: >250 AU/ml","Omicron; Not Boosted: ...250 AU/ml","Omicron; Not Boosted: >250 AU/ml"],"range":["#440154","#31688E","#35B779","#FDE725"]},"legend":{"title":"Immune status","orient":"none","legendX":22,"legendY":253,"direction":"horizontal","titleOrient":"left","symbolType":"M-1,0H1V1H-1V-1H1V0","symbolSize":484,"symbolStrokeWidth":1.5,"symbolDash":[22,300],"columnPadding":0,"labelOffset":5,"titlePadding":3,"encoding":{"symbols":{"fillOpacity":{"value":0.5},"strokeOpacity":{"value":1}}}}}}}
]}
]}
]
}
